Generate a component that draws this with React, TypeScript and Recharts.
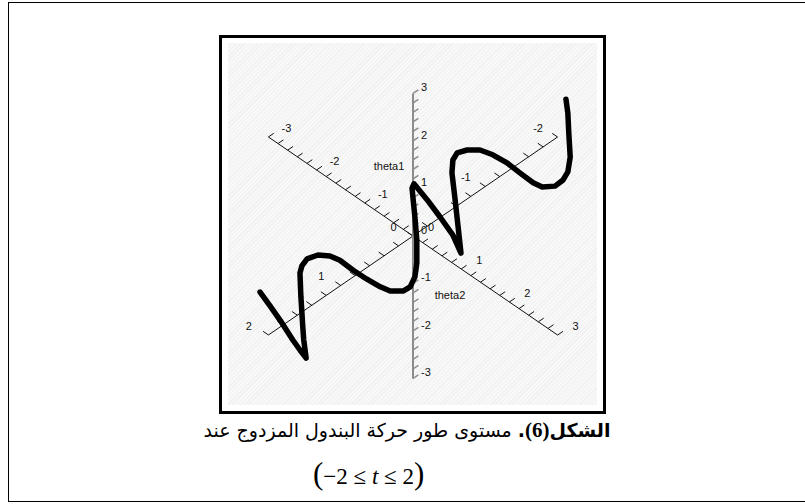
import React from 'react';
import { ScatterChart, XAxis, YAxis, Scatter, ReferenceLine } from 'recharts';

// trajectory of the double pendulum, projected onto the drawing plane
// (u to the right, v upward, one unit = one theta1 step on the vertical axis)
const curveU = [
  -3.22, -3.01, -2.8, -2.53, -2.38, -2.25, -2.3, -2.32, -2.36, -2.38, -2.34, -2.23, -2.0,
  -1.75, -1.54, -1.26, -0.97, -0.69, -0.48, -0.21, -0.06, 0.04, 0.08, 0.08, 0.04, 0.0,
  -0.02, 0.02, 0.3, 0.57, 0.84, 1.01, 0.95, 0.88, 0.82, 0.84, 0.93, 1.14, 1.41, 1.68,
  1.98, 2.25, 2.53, 2.72, 2.99, 3.16, 3.26, 3.31, 3.28, 3.26, 3.22,
];
const curveV = [
  -1.18, -1.47, -1.77, -2.19, -2.4, -2.57, -2.19, -1.92, -1.28, -0.78, -0.63, -0.48, -0.4,
  -0.42, -0.51, -0.72, -0.91, -1.07, -1.16, -1.16, -1.07, -0.86, -0.57, -0.08, 0.4, 0.8,
  1.01, 1.1, 0.76, 0.4, 0.02, -0.36, 0.19, 0.82, 1.33, 1.6, 1.75, 1.81, 1.81, 1.71,
  1.54, 1.33, 1.12, 1.03, 1.05, 1.18, 1.35, 1.66, 2.17, 2.59, 2.88,
];

// axis ranges and labelled values
const theta1Range = [-3, 3];
const theta2Range = [-3, 3];
const tRange = [-2, 2];
const theta1Labels = [-3, -2, -1, 0, 1, 2, 3];
const theta2Labels = [-3, -2, -1, 0, 1, 2, 3];
const tLabels = [-2, -1, 0, 1, 2];

const captionHead = 'الشكل';
const captionNumber = '(6)';
const captionText = 'مستوى طور حركة البندول المزدوج عند';

// direction of each 3D axis on the drawing plane, per axis unit
const THETA1_DIR = { u: 0, v: 1 };
const THETA2_DIR = { u: 1.015, v: -0.695 };
const T_DIR = { u: -1.522, v: -1.042 };

const PX = 47.5; // pixels per plane unit
const TICK = 6.5 / PX;
const TICK_UP_RIGHT = { u: 0.825 * TICK, v: 0.565 * TICK };
const TICK_UP_LEFT = { u: -0.825 * TICK, v: 0.565 * TICK };

const W = 369;
const H = 362;
const X_DOMAIN: [number, number] = [-3.895, 3.874];
const Y_DOMAIN: [number, number] = [-3.558, 4.063];

const LABEL_FONT = "'Liberation Sans', Arial, sans-serif";

type Dir = { u: number; v: number };

const at = (dir: Dir, s: number) => ({ x: dir.u * s, y: dir.v * s });

const steps = (lo: number, hi: number, step = 0.2) => {
  const n = Math.round((hi - lo) / step);
  return Array.from({ length: n + 1 }, (_, i) => +(lo + i * step).toFixed(2));
};

const curve = curveU.map((u, i) => ({ x: u, y: curveV[i] }));

function axisLines(key: string, dir: Dir, range: number[], tickDir: Dir, color: string, width: number) {
  const ends = [at(dir, range[0]), at(dir, range[1])];
  const lines = [
    <ReferenceLine
      key={key}
      segment={ends}
      stroke={color}
      strokeWidth={width}
      ifOverflow="visible"
      zIndex={10}
    />,
  ];
  steps(range[0], range[1]).forEach((s) => {
    const p = at(dir, s);
    lines.push(
      <ReferenceLine
        key={`${key}-${s}`}
        segment={[p, { x: p.x + tickDir.u, y: p.y + tickDir.v }]}
        stroke={color}
        strokeWidth={width > 1.5 ? 1.5 : 1}
        ifOverflow="visible"
        zIndex={10}
      />
    );
  });
  return lines;
}

const textShape = (dx: number, dy: number, anchor: 'start' | 'middle' | 'end') => (props: any) => (
  <text
    x={props.cx + dx}
    y={props.cy + dy}
    textAnchor={anchor}
    dominantBaseline="central"
    fontSize={11}
    fontFamily={LABEL_FONT}
    fill="#111"
  >
    {props.payload.text}
  </text>
);

const labelData = (dir: Dir, values: number[]) =>
  values.map((s) => ({ ...at(dir, s), text: String(s) }));

const axisNames = [
  { x: -0.505, y: 1.474, text: 'theta1' },
  { x: 0.779, y: -1.242, text: 'theta2' },
];

export default function App() {
  return (
    <div
      style={{
        position: 'fixed',
        left: 0,
        top: 0,
        width: 805,
        height: 504,
        overflow: 'hidden',
        background: '#fff',
      }}
    >
      <div
        style={{
          position: 'absolute',
          left: 8,
          top: 2,
          width: 820,
          height: 500,
          border: '1.5px solid #000',
          boxSizing: 'border-box',
        }}
      />
      <div
        style={{
          position: 'absolute',
          left: 219,
          top: 35,
          width: 387,
          height: 379,
          border: '3px solid #000',
          boxSizing: 'border-box',
        }}
      />
      <div
        style={{
          position: 'absolute',
          left: 228,
          top: 43,
          width: W,
          height: H,
          background:
            'repeating-linear-gradient(135deg, #f0f0f0 0px, #f0f0f0 1px, #f8f8f8 1px, #f8f8f8 3px)',
        }}
      >
        <ScatterChart width={W} height={H} margin={{ top: 0, right: 0, bottom: 0, left: 0 }}>
          <XAxis type="number" dataKey="x" domain={X_DOMAIN} hide allowDataOverflow />
          <YAxis type="number" dataKey="y" domain={Y_DOMAIN} hide allowDataOverflow />
          {axisLines('theta2', THETA2_DIR, theta2Range, TICK_UP_RIGHT, '#111', 1)}
          {axisLines('t', T_DIR, tRange, TICK_UP_LEFT, '#111', 1)}
          {axisLines('theta1', THETA1_DIR, theta1Range, TICK_UP_RIGHT, '#8c8c8c', 2)}
          <Scatter
            data={curve}
            line={{ stroke: '#000', strokeWidth: 5.5, strokeLinejoin: 'round', strokeLinecap: 'round' }}
            shape={() => <g />}
            isAnimationActive={false}
            zIndex={600}
          />
          <Scatter
            data={labelData(THETA1_DIR, theta1Labels)}
            shape={textShape(8, -6, 'start')}
            isAnimationActive={false}
            zIndex={700}
          />
          <Scatter
            data={labelData(THETA2_DIR, theta2Labels)}
            shape={textShape(18, -9, 'middle')}
            isAnimationActive={false}
            zIndex={700}
          />
          <Scatter
            data={labelData(T_DIR, tLabels)}
            shape={textShape(-19.5, -9, 'middle')}
            isAnimationActive={false}
            zIndex={700}
          />
          <Scatter
            data={axisNames}
            shape={textShape(0, 0, 'middle')}
            isAnimationActive={false}
            zIndex={700}
          />
        </ScatterChart>
      </div>
      <div
        dir="rtl"
        style={{
          position: 'absolute',
          left: 0,
          top: 418,
          width: 814,
          textAlign: 'center',
          fontFamily: "'DejaVu Sans', sans-serif",
          fontSize: 19,
          lineHeight: '24px',
          color: '#000',
          whiteSpace: 'nowrap',
        }}
      >
        <b>
          {captionHead}
          <span style={{ fontFamily: "'Liberation Serif', serif", fontSize: 21 }}>{captionNumber}</span>.
        </b>{' '}
        {captionText}
      </div>
      <div
        style={{
          position: 'absolute',
          left: 313,
          top: 459,
          fontFamily: "'Liberation Serif', serif",
          fontSize: 23,
          lineHeight: '30px',
          color: '#000',
          whiteSpace: 'nowrap',
        }}
      >
        <span style={{ fontSize: 31 }}>(</span>−2 ≤ <i>t</i> ≤ 2<span style={{ fontSize: 31 }}>)</span>
      </div>
    </div>
  );
}
